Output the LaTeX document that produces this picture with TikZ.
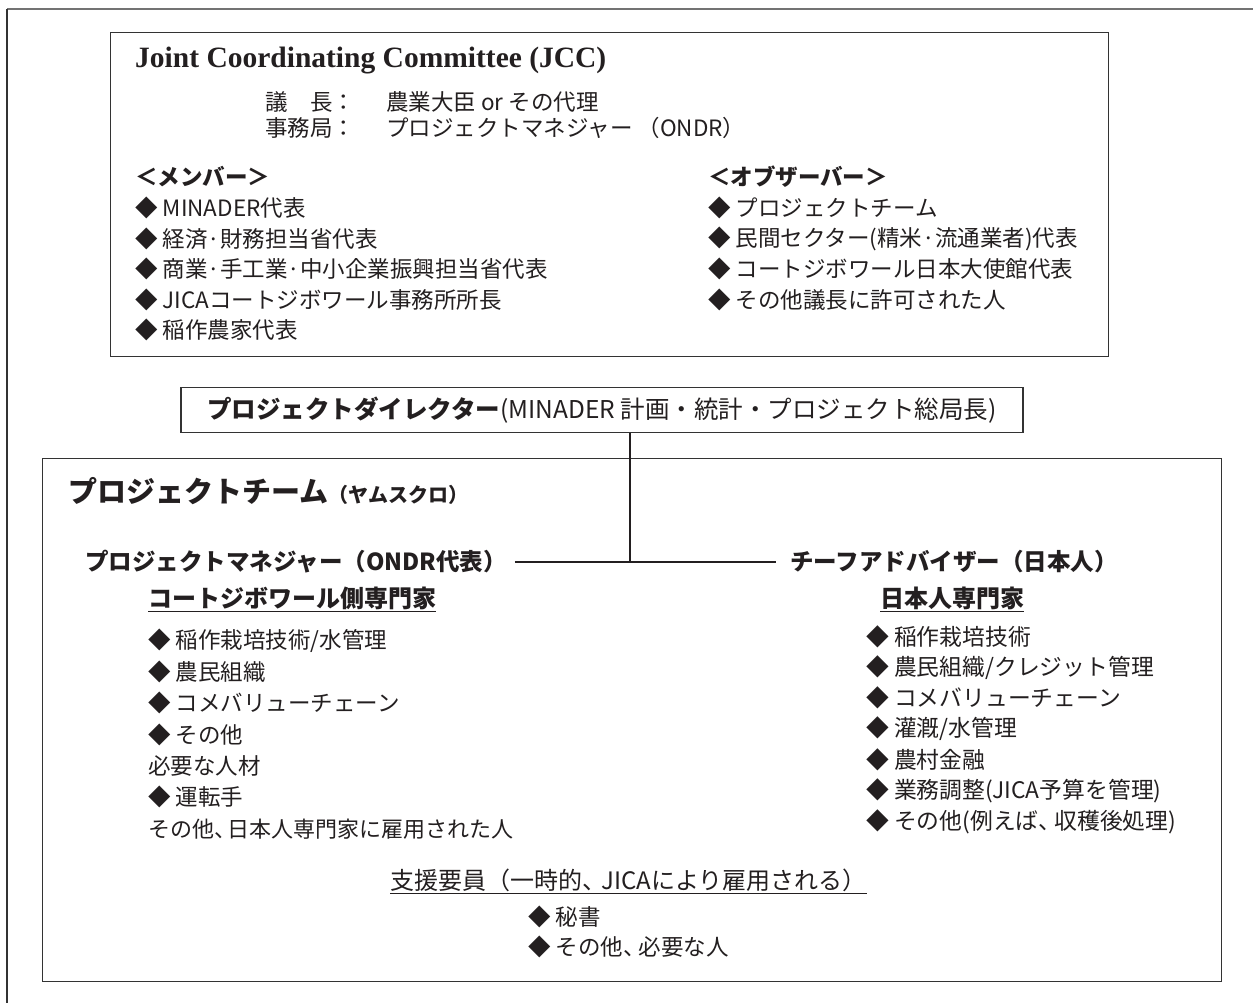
\documentclass[tikz,border=0pt]{standalone}
\usepackage{fontspec}
\setmainfont{Noto Sans CJK JP}
\newfontfamily\tms{Liberation Serif}
\definecolor{ink}{HTML}{231F20}
\begin{document}
\begin{tikzpicture}[x=1pt,y=-1pt,
  txt/.style={anchor=west, inner sep=0pt, text=ink, font=\fontsize{22.5}{26}\selectfont},
  rtxt/.style={anchor=west, inner sep=0pt, text=ink, font=\fontsize{22.8}{26}\selectfont},
  btxt/.style={anchor=west, inner sep=0pt, text=ink, font=\fontsize{22.5}{26}\selectfont\bfseries},
  htxt/.style={anchor=west, inner sep=0pt, text=ink, font=\fontsize{23.5}{26}\selectfont\bfseries},
  frame/.style={draw=black!80, line width=1.3pt, inner sep=0pt, anchor=north west},
  conn/.style={draw=ink, line width=2.4pt},
  uline/.style={draw=ink, line width=1.4pt}]
\useasboundingbox (0,0) rectangle (1253,1003);
\fill[white] (0,0) rectangle (1253,1003);
% outer page frame (cut off)
\coordinate (pgTL) at (7,9);
\coordinate (pgTR) at (1253,9);
\coordinate (pgBL) at (7,1003);
\draw[black!55, line width=2pt] (pgTL) -- (pgTR);
\draw[black!80, line width=1.4pt] (pgTL) -- (pgBL);

% ---------- JCC box ----------
\node[frame, minimum width=998, minimum height=324] (jcc) at (110,32) {};
\node[anchor=west, inner sep=0pt, text=ink, font=\tms\fontsize{29.5}{31}\selectfont\bfseries] (title) at (135,61) {Joint Coordinating Committee (JCC)};
\node[txt] (chairL) at (265,102) {議　長：};
\node[txt] (chairV) at (386,102) {農業大臣 or その代理};
\node[txt] (secL) at (265,128) {事務局：};
\node[txt] (secV) at (386,128) {プロジェクトマネジャー （ONDR）};

\node[btxt] (mem) at (135,177) {＜メンバー＞};
\node[txt] (m1) at (135,208) {◆ MINADER代表};
\node[txt] (m2) at (135,239) {◆ 経済·財務担当省代表};
\node[txt] (m3) at (135,269) {◆ 商業·手工業·中小企業振興担当省代表};
\node[txt] (m4) at (135,300) {◆ JICAコートジボワール事務所所長};
\node[txt] (m5) at (135,330) {◆ 稲作農家代表};

\node[btxt] (obs) at (708,177) {＜オブザーバー＞};
\node[txt] (o1) at (708,208) {◆ プロジェクトチーム};
\node[txt] (o2) at (708,239) {◆ 民間セクター(精米·流通業者)代表};
\node[txt] (o3) at (708,269) {◆ コートジボワール日本大使館代表};
\node[txt] (o4) at (708,300) {◆ その他議長に許可された人};

% ---------- Director ----------
\node[draw=black!80, line width=1.3pt, minimum width=842, minimum height=45, inner sep=0pt, text=ink,
      font=\fontsize{24.5}{27}\selectfont] (dir) at (602,410)
      {\textbf{プロジェクトダイレクター}(MINADER 計画・統計・プロジェクト総局長)};

% ---------- Project team box ----------
\node[frame, minimum width=1179, minimum height=523] (team) at (42,458) {};
\node[anchor=west, inner sep=0pt, text=ink, font=\fontsize{29}{32}\selectfont\bfseries] (tt) at (68,491) {プロジェクトチーム};
\node[anchor=base west, inner sep=0pt, text=ink, font=\fontsize{20}{24}\selectfont\bfseries] (tts) at (tt.base east) {（ヤムスクロ）};

\node[htxt] (mgr) at (85,562) {プロジェクトマネジャー（ONDR代表）};
\node[htxt] (chief) at (790,562) {チーフアドバイザー（日本人）};
\coordinate (j) at (630,562);
\draw[conn] (dir.south -| j) -- (j);
\draw[conn] ([xshift=8pt]mgr.east) -- ([xshift=-14pt]chief.west);

\node[htxt, font=\fontsize{24}{26}\selectfont\bfseries] (cote) at (148,598) {コートジボワール側専門家};
\draw[uline] ([yshift=-2pt]cote.south west) -- ([yshift=-2pt]cote.south east);
\node[htxt, font=\fontsize{24}{26}\selectfont\bfseries] (jpx) at (880,598) {日本人専門家};
\draw[uline] ([yshift=-2pt]jpx.south west) -- ([yshift=-2pt]jpx.south east);

\node[txt] (l1) at (148,641) {◆ 稲作栽培技術/水管理};
\node[txt] (l2) at (148,672) {◆ 農民組織};
\node[txt] (l3) at (148,703) {◆ コメバリューチェーン};
\node[txt] (l4) at (148,735) {◆ その他};
\node[txt] (l5) at (148,766) {必要な人材};
\node[txt] (l6) at (148,797) {◆ 運転手};
\node[txt, font=\fontsize{22}{26}\selectfont] (l7) at (148,829) {その他、\kern-0.4em 日本人専門家に雇用された人};

\node[rtxt] (r1) at (866,637) {◆ 稲作栽培技術};
\node[rtxt] (r2) at (866,668) {◆ 農民組織/クレジット管理};
\node[rtxt] (r3) at (866,698) {◆ コメバリューチェーン};
\node[rtxt] (r4) at (866,729) {◆ 灌漑/水管理};
\node[rtxt] (r5) at (866,760) {◆ 農村金融};
\node[rtxt] (r6) at (866,791) {◆ 業務調整(JICA予算を管理)};
\node[rtxt] (r7) at (866,822) {◆ その他(例えば、\kern-0.3em 収穫後処理)};

\node[txt, font=\fontsize{24}{26}\selectfont] (sup) at (390,880) {支援要員（一時的、\kern-0.2em JICAにより雇用される）};
\draw[uline] ([yshift=-2pt]sup.south west) -- ([yshift=-2pt]sup.south east);
\node[txt] (s1) at (528,917) {◆ 秘書};
\node[txt] (s2) at (528,947) {◆ その他、\kern-0.3em 必要な人};
\end{tikzpicture}
\end{document}
